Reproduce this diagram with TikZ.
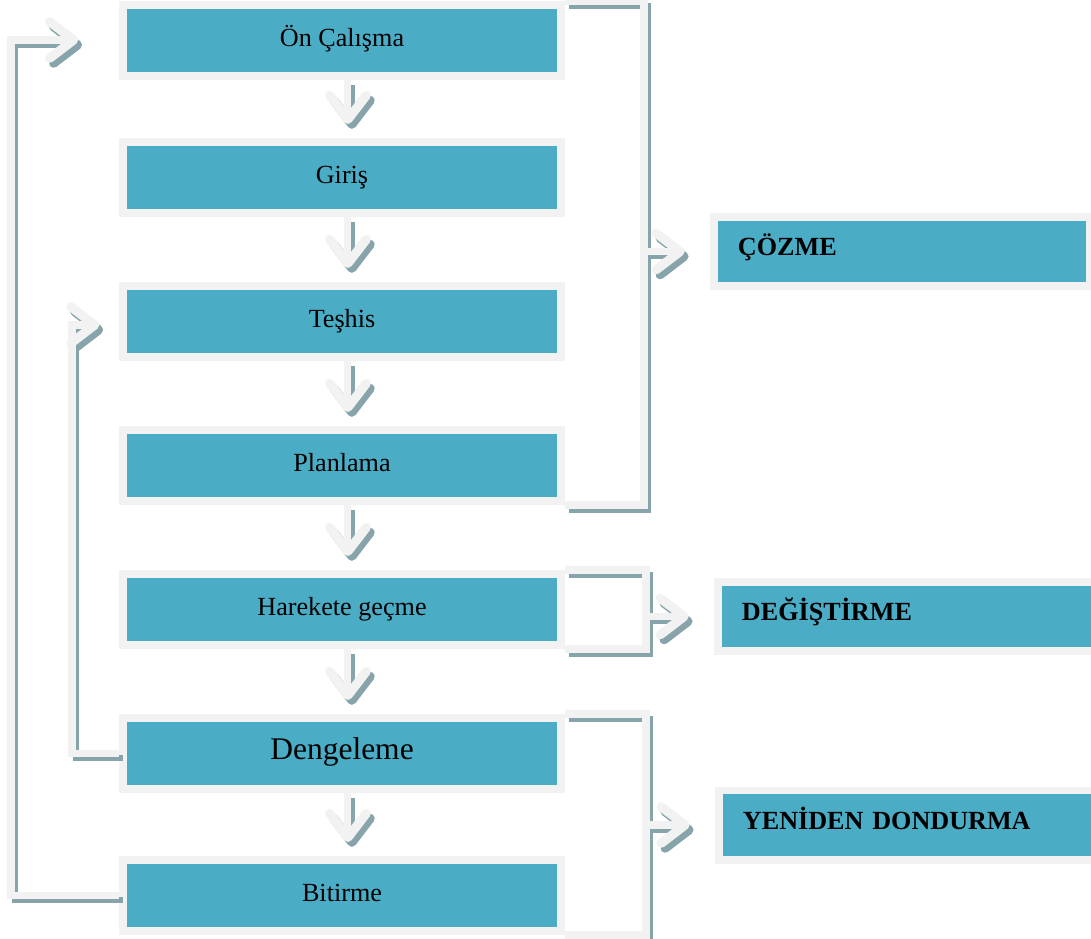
\documentclass[tikz,border=0pt]{standalone}
\usepackage{fontspec}
\setmainfont{Liberation Serif}
\usetikzlibrary{arrows.meta}
\definecolor{boxteal}{RGB}{75,172,198}
\definecolor{rimgray}{RGB}{242,242,242}
\definecolor{shadowgray}{RGB}{136,164,171}

\tikzset{
  stage/.style={draw=rimgray, line width=5.67pt, fill=boxteal, minimum width=10.95cm,
    minimum height=1.775cm, inner sep=0pt, text height=10pt, text depth=2pt,
    font=\fontsize{18.6}{22}\selectfont},
  result/.style={draw=rimgray, line width=5.67pt, fill=boxteal, minimum height=1.725cm,
    inner xsep=0.6cm, inner ysep=0pt, text width=8.2cm, align=left,
    text height=8pt, text depth=2pt, font=\bfseries\fontsize{18.6}{22}\selectfont},
  flow/.style={draw=rimgray, line width=5pt, line join=miter,
    preaction={draw=shadowgray, line width=4.2pt, transform canvas={shift={(2.8pt,-3.5pt)}}}},
  flowtip/.style={-{Straight Barb[round, length=17pt, width=26pt, line width=6.5pt]}}
}

\begin{document}
\begin{tikzpicture}[x=0.025cm, y=-0.025cm]
\useasboundingbox (0,0) rectangle (1091,939);

% main column
\node[stage] (on) at (342,40.5) {Ön Çalışma};
\node[stage] (gi) at (342,177.5) {Giriş};
\node[stage] (te) at (342,321.5) {Teşhis};
\node[stage] (pl) at (342,465.5) {Planlama};
\node[stage] (hg) at (342,609.5) {Harekete geçme};
\node[stage, font=\fontsize{22.4}{26}\selectfont] (de) at (342,753.5) {Dengeleme};
\node[stage] (bi) at (342,895.5) {Bitirme};

% outcomes
\node[result] (coz) at (902,251.5) {ÇÖZME};
\node[result, text width=8.8cm] (deg) at (918,616.5) {DEĞİŞTİRME};
\node[result, text width=8.8cm] (yen) at (919,825) {YENİDEN DONDURMA};

\coordinate (rb1) at (644,0);
\coordinate (rb2) at (646,0);
\coordinate (rb3) at (646,0);
\coordinate (lp1) at (11,40);
\coordinate (lp2) at (72,325);

% brackets on the right
\draw[flow] (on.north east) -| (rb1 |- pl.south east) -- (pl.south east);
\draw[flow] (hg.north east) -| (rb2 |- hg.south east) -- (hg.south east);
\draw[flow] (de.north east) -| (rb3 |- bi.south east) -- (bi.south east);

\draw[flow, flowtip, shorten >=18pt] (rb1 |- coz.west) -- (coz.west);
\draw[flow, flowtip, shorten >=18pt] (rb2 |- deg.west) -- (deg.west);
\draw[flow, flowtip, shorten >=18pt] (rb3 |- yen.west) -- (yen.west);

% loops back on the left
\draw[flow, flowtip, shorten >=29pt] (bi.west) -| (lp1) -- (lp1 -| on.west);
\draw[flow, flowtip, shorten >=14pt] (de.west) -| (lp2) -- (lp2 -| te.west);

% steps downwards
\foreach \a/\b in {on/gi, gi/te, te/pl, pl/hg, hg/de, de/bi}
  \draw[flow, flowtip, shorten >=10pt] ([xshift=4.25pt]\a.south) -- ([xshift=4.25pt]\b.north);
\end{tikzpicture}
\end{document}
